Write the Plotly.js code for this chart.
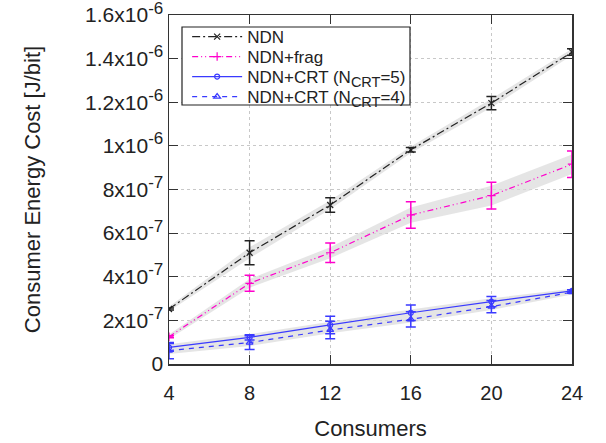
<!DOCTYPE html>
<html><head><meta charset="utf-8">
<script src="https://cdn.plot.ly/plotly-3.0.1.min.js"></script>
<style>body{margin:0;background:#fff}#c{width:606px;height:443px}</style>
</head><body><div id="c"></div>
<script>
const consumers = [4, 8, 12, 16, 20, 24];
const ndn      = [2.52e-7, 5.10e-7, 7.29e-7, 9.82e-7, 1.196e-6, 1.43e-6];
const ndnErr   = [0.5e-8, 5.5e-8, 3.3e-8, 1.0e-8, 3.0e-8, 1.5e-8];
const ndnBand  = [1.0e-8, 2.5e-8, 2.0e-8, 1.5e-8, 2.0e-8, 1.5e-8];
const frag     = [1.25e-7, 3.70e-7, 5.10e-7, 6.83e-7, 7.72e-7, 9.16e-7];
const fragErr  = [0.5e-8, 3.7e-8, 4.5e-8, 6.1e-8, 6.1e-8, 6.1e-8];
const fragBand = [1.0e-8, 2.0e-8, 2.5e-8, 3.5e-8, 4.5e-8, 4.5e-8];
const crt5     = [7.6e-8, 1.22e-7, 1.79e-7, 2.35e-7, 2.86e-7, 3.35e-7];
const crt5Err  = [1.8e-8, 1.2e-8, 4.0e-8, 3.5e-8, 2.3e-8, 0.5e-8];
const crt4     = [6.1e-8, 9.8e-8, 1.56e-7, 2.05e-7, 2.63e-7, 3.29e-7];
const crt4Err  = [3.7e-8, 3.2e-8, 4.0e-8, 3.5e-8, 2.8e-8, 0.5e-8];
const crtBand  = [1.5e-8, 1.5e-8, 1.5e-8, 1.5e-8, 1.5e-8, 1.0e-8];
const yTickVals = [0, 2e-7, 4e-7, 6e-7, 8e-7, 1e-6, 1.2e-6, 1.4e-6, 1.6e-6];
const yMant = ['0', '2', '4', '6', '8', '1', '1.2', '1.4', '1.6'];
const yExp  = ['', '-7', '-7', '-7', '-7', '-6', '-6', '-6', '-6'];
const seriesNames = ['NDN', 'NDN+frag', 'NDN+CRT (N<sub><span style="font-size:14.5px">CRT</span></sub>=5)',
  'NDN+CRT (N<sub><span style="font-size:14.5px">CRT</span></sub>=4)'];
const yTickText = yMant.map((m, i) => yExp[i] ? m + 'x10<sup><span style="font-size:17px">' + yExp[i] + '</span></sup>' : m);

function band(y, w, lowerY, lowerW) {
  const up = y.map((v, i) => v + w[i]);
  const lo = (lowerY || y).map((v, i) => v - (lowerW || w)[i]);
  return {
    x: consumers.concat(consumers.slice().reverse()),
    y: up.concat(lo.slice().reverse()),
    fill: 'toself', fillcolor: 'rgba(218,218,218,0.7)', line: {width: 0},
    mode: 'lines', showlegend: false, hoverinfo: 'skip'
  };
}
function series(name, y, err, color, dash, symbol, size, legend) {
  return {
    x: consumers, y: y, name: name, mode: 'lines+markers', legend: legend,
    line: {color: color, width: 1.2, dash: dash},
    marker: {symbol: symbol, size: size, color: color, line: {color: color, width: 1.2}},
    error_y: {type: 'data', array: err, visible: true, color: color, thickness: 1.5, width: 5}
  };
}
const blue = '#3a3aff';
const data = [
  band(ndn, ndnBand),
  band(frag, fragBand),
  band(crt5, crtBand, crt4, crtBand),
  series(seriesNames[0], ndn, ndnErr, '#222222', '8px,3px,2px,3px', 'x-thin-open', 6, 'legend'),
  series(seriesNames[1], frag, fragErr, '#ff00cc', '6px,3px,1px,3px,1px,3px', 'cross-thin-open', 6, 'legend2'),
  series(seriesNames[2], crt5, crt5Err, blue, 'solid', 'circle-open', 5, 'legend3'),
  series(seriesNames[3], crt4, crt4Err, blue, '5px,5px', 'triangle-up-open', 6, 'legend4')
];
const axisCommon = {
  showline: true, linecolor: '#333', linewidth: 1.5, mirror: 'ticks',
  ticks: 'inside', ticklen: 9, tickcolor: '#333', tickwidth: 1.2,
  showgrid: true, gridcolor: '#c8c8c8', griddash: 'dot', gridwidth: 1,
  zeroline: false, ticklabeloverflow: 'allow',
  tickfont: {family: 'Liberation Sans, Arial, sans-serif', size: 20, color: '#222'}
};
function leg(yc) {
  return {x: 0.045, y: yc, xanchor: 'left', yanchor: 'middle', bgcolor: 'rgba(0,0,0,0)',
          borderwidth: 0, font: {size: 17, color: '#222'}, itemwidth: 50};
}
const H = 349;
const layout = {
  width: 606, height: 443,
  margin: {l: 169, r: 34, t: 15, b: 79},
  paper_bgcolor: '#fff', plot_bgcolor: '#fff',
  font: {family: 'Liberation Sans, Arial, sans-serif', color: '#222'},
  xaxis: Object.assign({}, axisCommon, {
    range: [4, 24], tickvals: consumers, ticktext: consumers.map(String), ticklabelstandoff: 10,
    title: {text: 'Consumers', font: {size: 22}, standoff: 18}
  }),
  yaxis: Object.assign({}, axisCommon, {
    range: [0, 1.6e-6], tickvals: yTickVals, ticktext: yTickText,
    tickfont: {family: 'Liberation Sans, Arial, sans-serif', size: 21, color: '#222'},
    title: {text: 'Consumer Energy Cost [J/bit]', font: {size: 22}, standoff: 38}
  }),
  legend: leg((364 - 37) / H),
  legend2: leg((364 - 57) / H),
  legend3: leg((364 - 77) / H),
  legend4: leg((364 - 97) / H),
  shapes: [{type: 'rect', xref: 'paper', yref: 'paper', layer: 'above',
    x0: 13 / 403, x1: 241 / 403, y0: (364 - 105) / H, y1: (364 - 27) / H,
    fillcolor: '#fff', line: {color: '#222', width: 1.2}}],
  showlegend: true
};
Plotly.newPlot('c', data, layout, {staticPlot: true});
</script></body></html>
